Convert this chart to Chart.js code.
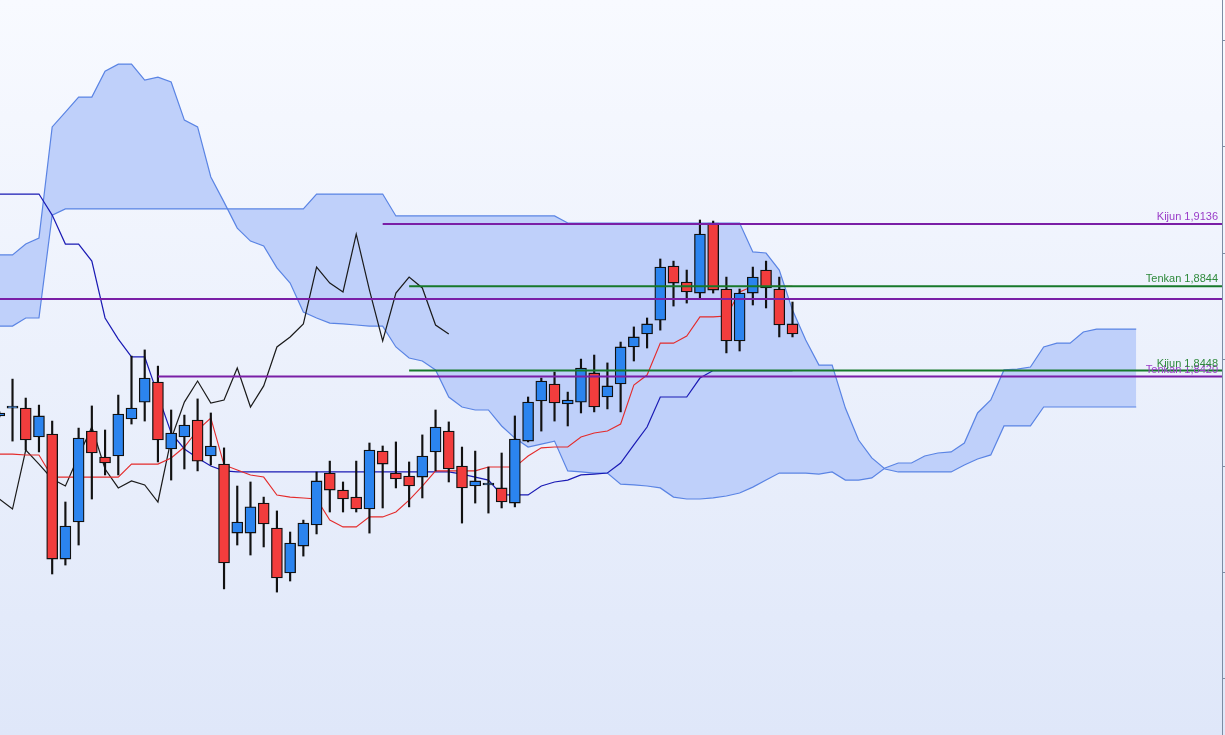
<!DOCTYPE html>
<html>
<head>
<meta charset="utf-8">
<script src="https://cdn.jsdelivr.net/npm/chart.js@4.4.1/dist/chart.umd.min.js"></script>
<style>
  html, body { margin: 0; padding: 0; }
  body { width: 1225px; height: 735px; overflow: hidden; background: linear-gradient(to bottom, #f8faff 0%, #dfe7f9 100%); }
  canvas { display: block; }
</style>
</head>
<body>
<canvas id="ichimokuChart" width="1225" height="735"></canvas>
<script>
// candles, index 0..60
const opens = [1.8235,1.8272,1.8272,1.8136,1.8150,1.7563,1.7737,1.8164,1.8042,1.8047,
  1.8221,1.8300,1.8394,1.8080,1.8136,1.8216,1.8047,1.8009,1.7685,1.7685,
  1.7826,1.7709,1.7498,1.7624,1.7723,1.7967,1.7887,1.7854,1.7798,1.8070,
  1.7967,1.7953,1.7948,1.8066,1.8164,1.8000,1.7906,1.7911,1.7897,1.7826,
  1.8117,1.8305,1.8385,1.8291,1.8300,1.8437,1.8324,1.8385,1.8559,1.8620,
  1.8685,1.8939,1.8864,1.8812,1.9141,1.8831,1.8587,1.8812,1.8920,1.8831,
  1.8667];
const highs = [1.8254,1.8408,1.8319,1.8286,1.8211,1.7831,1.8178,1.8282,1.8169,1.8333,
  1.8516,1.8545,1.8469,1.8263,1.8239,1.8315,1.8249,1.8085,1.7906,1.7925,
  1.7854,1.7789,1.7690,1.7746,1.7972,1.8023,1.7925,1.8023,1.8108,1.8094,
  1.8113,1.8019,1.8146,1.8263,1.8207,1.8089,1.8070,1.7995,1.8061,1.8235,
  1.8324,1.8413,1.8441,1.8347,1.8502,1.8521,1.8484,1.8582,1.8653,1.8695,
  1.8972,1.8962,1.8920,1.9155,1.9150,1.8887,1.8831,1.8934,1.8962,1.8887,
  1.8770];
const lows = [1.8230,1.8117,1.8075,1.8066,1.7493,1.7535,1.7629,1.7845,1.7958,1.7958,
  1.8197,1.8211,1.8019,1.7934,1.7986,1.7977,1.8005,1.7423,1.7629,1.7582,
  1.7620,1.7408,1.7460,1.7577,1.7681,1.7784,1.7784,1.7784,1.7685,1.7803,
  1.7897,1.7808,1.7850,1.7977,1.7925,1.7732,1.7826,1.7779,1.7803,1.7808,
  1.8113,1.8164,1.8211,1.8188,1.8249,1.8254,1.8268,1.8254,1.8493,1.8554,
  1.8638,1.8751,1.8765,1.8784,1.8812,1.8531,1.8540,1.8756,1.8742,1.8606,
  1.8606];
const closes = [1.8249,1.8272,1.8122,1.8235,1.7563,1.7718,1.8131,1.8061,1.8014,1.8244,
  1.8272,1.8413,1.8122,1.8155,1.8192,1.8023,1.8094,1.7545,1.7737,1.7808,
  1.7728,1.7474,1.7638,1.7732,1.7930,1.7887,1.7845,1.7798,1.8075,1.8009,
  1.7939,1.7906,1.8047,1.8183,1.7986,1.7897,1.7930,1.7911,1.7831,1.8127,
  1.8300,1.8399,1.8296,1.8310,1.8460,1.8277,1.8376,1.8559,1.8606,1.8667,
  1.8934,1.8859,1.8817,1.9089,1.8826,1.8587,1.8812,1.8887,1.8836,1.8662,
  1.8620];

// ichimoku lines
const tenkan = [1.8056,1.8056,1.8052,1.8052,1.7948,1.7948,1.7948,1.7948,1.7948,1.7948,
  1.8009,1.8009,1.8009,1.8038,1.8089,1.8169,1.8225,1.8005,1.7981,1.7958,
  1.7948,1.7864,1.7854,1.7850,1.7845,1.7746,1.7714,1.7714,1.7761,1.7761,
  1.7784,1.7840,1.7906,1.7977,1.7977,1.7977,1.7977,1.7995,1.7995,1.7995,
  1.8047,1.8085,1.8089,1.8089,1.8136,1.8155,1.8164,1.8197,1.8380,1.8427,
  1.8577,1.8577,1.8610,1.8700,1.8700,1.8704,1.8817,1.8844,1.8844,1.8844,
  1.8844];
const kijun = [1.9277,1.9277,1.9277,1.9277,1.9178,1.9042,1.9042,1.8962,1.8695,1.8596,
  1.8512,1.8512,1.8333,1.8155,1.8080,1.8038,1.8000,1.7977,1.7972,1.7972,
  1.7972,1.7972,1.7972,1.7972,1.7972,1.7972,1.7972,1.7972,1.7972,1.7972,
  1.7972,1.7972,1.7972,1.7972,1.7972,1.7962,1.7948,1.7934,1.7864,1.7864,
  1.7864,1.7906,1.7925,1.7934,1.7958,1.7962,1.7967,1.8014,1.8099,1.8183,
  1.8324,1.8324,1.8324,1.8413,1.8448,1.8448,1.8448,1.8448,1.8448,1.8448,
  1.8448];
// chikou, plotted at index 0..34
const chikou = [1.7845,1.7798,1.8075,1.8009,1.7939,1.7906,1.8047,1.8183,1.7986,1.7897,
  1.7930,1.7911,1.7831,1.8127,1.8300,1.8399,1.8296,1.8310,1.8460,1.8277,
  1.8376,1.8559,1.8606,1.8667,1.8934,1.8859,1.8817,1.9089,1.8826,1.8587,
  1.8812,1.8887,1.8836,1.8662,1.8620];
// senkou spans, index 0..86
const spanA = [1.8991,1.8991,1.9042,1.9070,1.9592,1.9662,1.9732,1.9732,1.9854,1.9887,
  1.9887,1.9812,1.9826,1.9803,1.9624,1.9592,1.9357,1.9239,1.9117,1.9056,
  1.9033,1.8930,1.8859,1.8723,1.8695,1.8671,1.8667,1.8662,1.8657,1.8657,
  1.8559,1.8507,1.8493,1.8451,1.8324,1.8277,1.8263,1.8263,1.8188,1.8131,
  1.8089,1.8103,1.8117,1.7977,1.7972,1.7967,1.7967,1.7915,1.7911,1.7906,
  1.7897,1.7854,1.7845,1.7845,1.7850,1.7859,1.7873,1.7901,1.7934,1.7967,
  1.7967,1.7967,1.7962,1.7972,1.7934,1.7934,1.7944,1.7991,1.8014,1.8014,
  1.8047,1.8061,1.8066,1.8108,1.8249,1.8310,1.8451,1.8455,1.8465,1.8559,
  1.8577,1.8577,1.8629,1.8643,1.8643,1.8643,1.8643];
const spanB = [1.8657,1.8657,1.8695,1.8695,1.9178,1.9207,1.9207,1.9207,1.9207,1.9207,
  1.9207,1.9207,1.9207,1.9207,1.9207,1.9207,1.9207,1.9207,1.9207,1.9207,
  1.9207,1.9207,1.9207,1.9207,1.9277,1.9277,1.9277,1.9277,1.9277,1.9277,
  1.9174,1.9174,1.9174,1.9174,1.9174,1.9174,1.9174,1.9174,1.9174,1.9174,
  1.9174,1.9174,1.9174,1.9141,1.9141,1.9141,1.9141,1.9141,1.9141,1.9141,
  1.9141,1.9141,1.9141,1.9141,1.9141,1.9141,1.9141,1.9005,1.9000,1.8920,
  1.8732,1.8592,1.8474,1.8474,1.8272,1.8122,1.8038,1.7986,1.7972,1.7972,
  1.7972,1.7972,1.7972,1.8005,1.8033,1.8052,1.8188,1.8188,1.8188,1.8277,
  1.8277,1.8277,1.8277,1.8277,1.8277,1.8277,1.8277];

// horizontal levels
const levelValues = [1.9136, 1.8844, 1.8784, 1.8420, 1.8448];
const levelNames = ['Kijun', 'Tenkan', '', 'Tenkan', 'Kijun'];
const levelStarts = [29, 31, 0, 12, 31];
const levelColors = ['#7a1fa6', '#17782a', '#7a1fa6', '#7a1fa6', '#17782a'];
const levelTextColors = ['#9a3cc8', '#2f8a3c', '#9a3cc8', '#9a3cc8', '#2f8a3c'];

const X_MIN = 0.053, X_MAX = 92.49;
const Y_MIN = 1.6737, Y_MAX = 2.0188;

const points = (arr) => arr.map((v, i) => ({ x: i, y: v }));

const lineStyle = (color, width, order) => ({
  type: 'line', borderColor: color, borderWidth: width, pointRadius: 0,
  tension: 0, fill: false, order: order
});

const levelSets = levelValues.map((v, k) => ({
  ...lineStyle(levelColors[k], 2, 0),
  data: [{ x: levelStarts[k], y: v }, { x: X_MAX, y: v }]
}));

const levelLabelPlugin = {
  id: 'levelLabels',
  afterDatasetsDraw(chart) {
    const { ctx, chartArea, scales } = chart;
    ctx.save();
    ctx.font = '11px "Liberation Sans", Arial, sans-serif';
    ctx.textAlign = 'right';
    ctx.textBaseline = 'alphabetic';
    levelValues.forEach((v, k) => {
      if (!levelNames[k]) return;
      ctx.fillStyle = levelTextColors[k];
      const text = levelNames[k] + ' ' + v.toFixed(4).replace('.', ',');
      ctx.fillText(text, chartArea.right - 4, scales.y.getPixelForValue(v) - 4);
    });
    ctx.restore();
  }
};

new Chart(document.getElementById('ichimokuChart'), {
  type: 'bar',
  data: {
    datasets: [
      ...levelSets,
      {
        type: 'bar',
        data: opens.map((o, i) => ({ x: i, y: [o, closes[i]] })),
        backgroundColor: opens.map((o, i) => closes[i] >= o ? '#2b84ef' : '#f23d3d'),
        borderColor: '#111111',
        borderWidth: 1.3,
        borderSkipped: false,
        barThickness: 11,
        minBarLength: 2,
        grouped: false,
        order: 1
      },
      {
        type: 'bar',
        data: lows.map((l, i) => ({ x: i, y: [l, highs[i]] })),
        backgroundColor: '#111111',
        borderWidth: 0,
        barThickness: 1.5,
        grouped: false,
        order: 2
      },
      { ...lineStyle('#e42b2b', 1.1, 3), data: points(tenkan) },
      { ...lineStyle('#1a1ab4', 1.2, 3), data: points(kijun) },
      { ...lineStyle('#1a1a1a', 1.2, 3), data: points(chikou) },
      { ...lineStyle('#5a84e4', 1.2, 4), data: points(spanA) },
      { ...lineStyle('#5a84e4', 1.2, 4), data: points(spanB), fill: '-1', backgroundColor: '#bfd0fa' }
    ]
  },
  options: {
    responsive: false,
    animation: false,
    events: [],
    layout: { padding: 0 },
    plugins: {
      legend: { display: false },
      tooltip: { enabled: false }
    },
    scales: {
      x: { type: 'linear', min: X_MIN, max: X_MAX, offset: false, display: false },
      y: {
        type: 'linear',
        position: 'right',
        min: Y_MIN,
        max: Y_MAX,
        ticks: { display: false, stepSize: 0.05, includeBounds: false },
        grid: { drawOnChartArea: false, drawTicks: true, tickLength: 3, color: '#7d8ca3' },
        border: { display: true, color: '#7d8ca3' }
      }
    }
  },
  plugins: [levelLabelPlugin]
});
</script>
</body>
</html>
